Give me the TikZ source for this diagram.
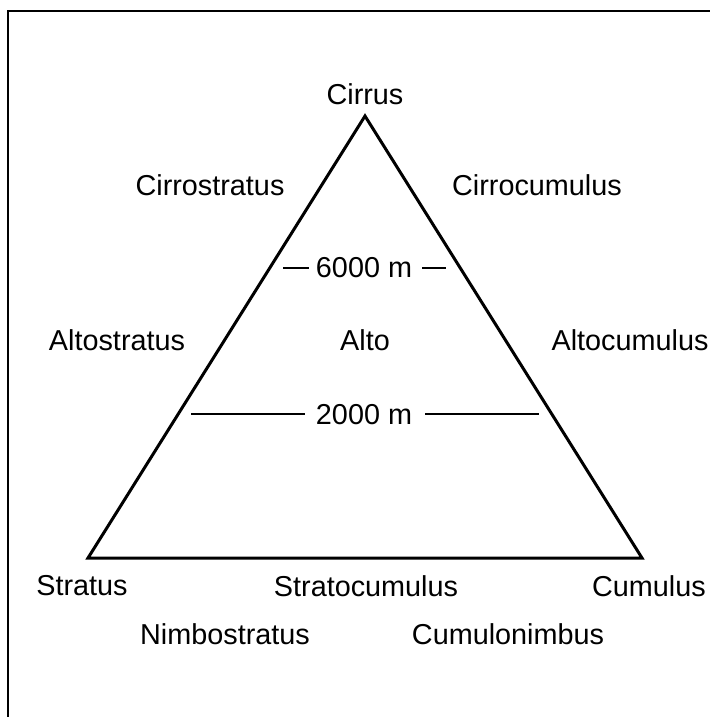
\documentclass[tikz,border=0pt]{standalone}
\usepackage{fontspec}
\setmainfont{Liberation Sans}
\usetikzlibrary{positioning}
\tikzset{
  lbl/.style={font=\fontsize{14.4}{17}\selectfont, inner sep=0pt},
  side/.style={line width=1.5pt, line join=miter},
  level/.style={line width=1pt},
  frame/.style={line width=1.1pt}
}

\begin{document}
\begin{tikzpicture}[x=0.5pt, y=-0.5pt]
  \useasboundingbox (0,0) rectangle (710,717);

  %% outer frame
  \draw[frame] (8,717) -- (8,11) -- (710,11);

  %% triangle
  \coordinate (apex) at (365,116);
  \coordinate (bl)   at (88,558);
  \coordinate (br)   at (642,558);
  \draw[side] (apex) -- (bl) -- (br) -- cycle;

  %% cloud names
  \node[lbl] (cirrus)  at (365,94)  {Cirrus};
  \node[lbl] (cirrost) at (210,185) {Cirrostratus};
  \node[lbl] (cirrocu) at (537,185) {Cirrocumulus};
  \node[lbl] (altost)  at (117,340) {Altostratus};
  \node[lbl] (alto)    at (365,340) {Alto};
  \node[lbl] (altocu)  at (630,340) {Altocumulus};
  \node[lbl] (stratus) at (82,586)  {Stratus};
  \node[lbl] (stratcu) at (366,586) {Stratocumulus};
  \node[lbl] (cumulus) at (649,586) {Cumulus};
  \node[lbl] (nimbost) at (225,634) {Nimbostratus};
  \node[lbl] (cumnimb) at (508,634) {Cumulonimbus};

  %% height levels
  \node[lbl] (h6000) at (364,268) {6000 m};
  \coordinate (h6000a) at (283,268);
  \coordinate (h6000b) at (309,268);
  \coordinate (h6000c) at (422,268);
  \coordinate (h6000d) at (446,268);
  \draw[level] (h6000a) -- (h6000b);
  \draw[level] (h6000c) -- (h6000d);

  \node[lbl] (h2000) at (364,415) {2000 m};
  \coordinate (h2000a) at (191,414);
  \coordinate (h2000b) at (305,414);
  \coordinate (h2000c) at (425,414);
  \coordinate (h2000d) at (539,414);
  \draw[level] (h2000a) -- (h2000b);
  \draw[level] (h2000c) -- (h2000d);

\end{tikzpicture}
\end{document}
